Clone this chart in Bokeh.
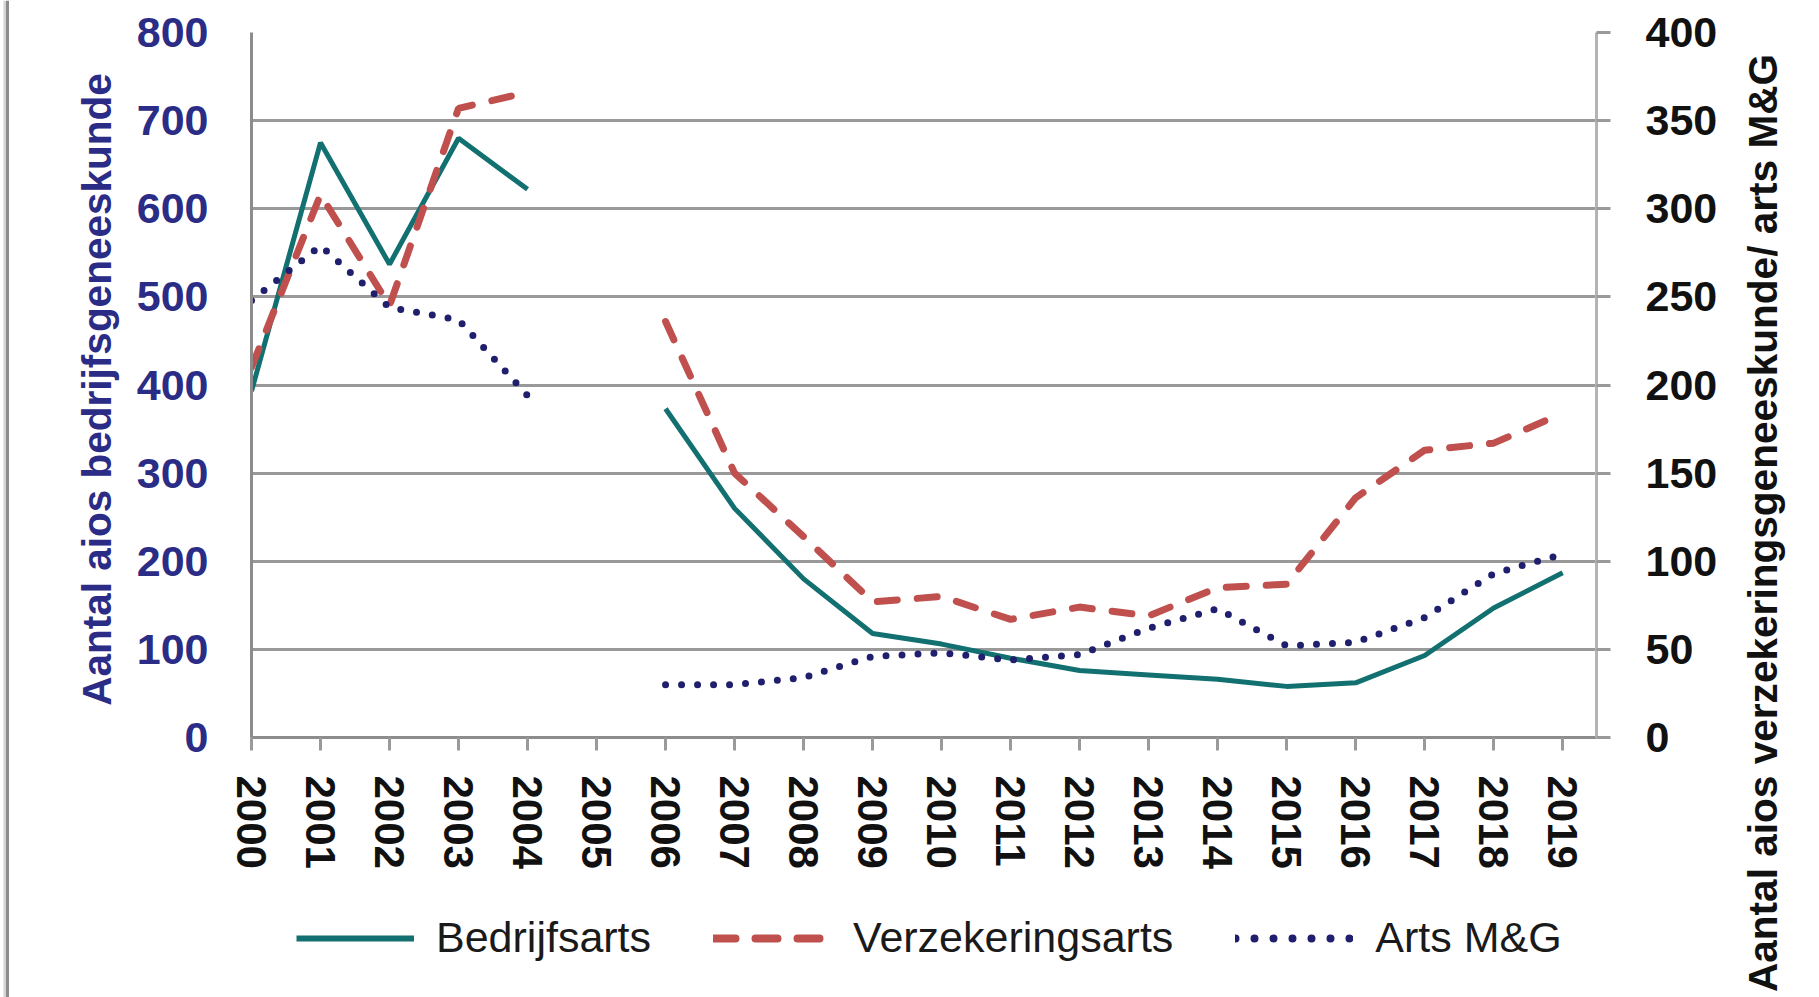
import math
from bokeh.plotting import figure
from bokeh.layouts import row, column
from bokeh.models import (Range1d, LinearAxis, FixedTicker, Legend, LegendItem, Label)
from bokeh.embed import file_html
from bokeh.resources import INLINE

# ---------------- data ----------------
years = list(range(2000, 2020))
nan = float("nan")
bedrijfsarts = [393, 675, 537, 680, 622, nan, 373, 260, 180, 118, 106, 90, 76, 71, 66, 58, 62, 93, 147, 187]
verzekeringsarts = [210, 308, 245, 357, 366, nan, 236, 150, 114, 77, 80, 67, 74, 69, 85, 87, 136, 163, 167, 184]
arts_mg = [248, 279, 244, 237, 194, nan, 30, 30, 34, 46, 48, 44, 47, 62, 73, 52, 54, 68, 93, 104]
left_ticks = [0, 100, 200, 300, 400, 500, 600, 700, 800]
right_ticks = [0, 50, 100, 150, 200, 250, 300, 350, 400]
series_names = ["Bedrijfsarts", "Verzekeringsarts", "Arts M&G"]
left_title = "Aantal aios bedrijfsgeneeskunde"
right_title = "Aantal aios verzekeringsgeneeskunde/ arts M&G"

# ---------------- styling ----------------
FONT = "Liberation Sans"
TEAL = "#127070"
RED = "#C0504D"
NAVY = "#1F1F6E"
LEFT_TXT = "#2B2C85"
GRID = "#999999"

TOTAL_H = 997
LEFT_W, MAIN_W, RIGHT_W = 120, 1610, 89
MAIN_H, LEG_H = 890, 107


def blank(width, height):
    f = figure(width=width, height=height, output_backend="svg", toolbar_location=None,
               x_range=Range1d(0, width), y_range=Range1d(0, height),
               x_axis_location=None, y_axis_location=None,
               min_border_left=0, min_border_right=0, min_border_top=0, min_border_bottom=0)
    f.outline_line_color = None
    f.xgrid.visible = False
    f.ygrid.visible = False
    f.background_fill_color = "white"
    f.border_fill_color = "white"
    return f


# ---------------- main chart ----------------
p = figure(width=MAIN_W, height=MAIN_H, output_backend="svg", toolbar_location=None,
           x_range=Range1d(2000, 2019.49), y_range=Range1d(0, 800),
           min_border_left=131, min_border_right=134, min_border_top=32,
           min_border_bottom=153)
p.outline_line_color = None
p.background_fill_color = "white"
p.border_fill_color = "white"
p.extra_y_ranges = {"right": Range1d(0, 400)}

xa = p.xaxis[0]
xa.ticker = FixedTicker(ticks=years)
xa.major_label_overrides = {y: str(y) for y in years}
xa.major_label_orientation = "vertical"
xa.major_label_text_font = FONT
xa.major_label_text_font_size = "42px"
xa.major_label_text_font_style = "bold"
xa.major_label_text_color = "#111111"
xa.major_label_standoff = 25
xa.axis_line_color = "#8C8C8C"
xa.axis_line_width = 3
xa.major_tick_out = 13
xa.major_tick_in = 0
xa.major_tick_line_color = "#9A9A9A"
xa.major_tick_line_width = 3
xa.minor_tick_line_color = None

ya = p.yaxis[0]
ya.ticker = FixedTicker(ticks=left_ticks)
ya.major_label_text_font = FONT
ya.major_label_text_font_size = "43px"
ya.major_label_text_font_style = "bold"
ya.major_label_text_color = LEFT_TXT
ya.major_label_standoff = 43
ya.axis_line_color = "#8C8C8C"
ya.axis_line_width = 3
ya.major_tick_out = 0
ya.major_tick_in = 0
ya.minor_tick_line_color = None

ra = LinearAxis(y_range_name="right", ticker=FixedTicker(ticks=right_ticks))
ra.major_label_text_font = FONT
ra.major_label_text_font_size = "43px"
ra.major_label_text_font_style = "bold"
ra.major_label_text_color = "#111111"
ra.major_label_standoff = 35
ra.axis_line_color = "#B4B4B4"
ra.axis_line_width = 3
ra.major_tick_out = 14
ra.major_tick_in = 0
ra.major_tick_line_color = GRID
ra.major_tick_line_width = 3
ra.minor_tick_line_color = None
p.add_layout(ra, "right")

p.xgrid.grid_line_color = None
p.ygrid.ticker = FixedTicker(ticks=left_ticks)
p.ygrid.grid_line_color = GRID
p.ygrid.grid_line_width = 3

p.line(years, bedrijfsarts, line_color=TEAL, line_width=5)
p.line(years, verzekeringsarts, y_range_name="right", line_color=RED,
       line_width=7, line_dash="20 20", line_cap="round")
p.line(years, arts_mg, y_range_name="right", line_color=NAVY,
       line_width=7, line_dash="0 16", line_cap="round")

# ---------------- legend strip (frame is aligned with the chart frame) ----------------
lg = blank(MAIN_W, LEG_H)
off = [-100, -50]
l1 = lg.line(off, off, line_color=TEAL, line_width=6)
l2 = lg.line(off, off, line_color=RED, line_width=8, line_dash="22 20", line_cap="round")
l3 = lg.line(off, off, line_color=NAVY, line_width=8, line_dash="0 19", line_cap="round")
legend = Legend(items=[LegendItem(label=series_names[0], renderers=[l1]),
                       LegendItem(label=series_names[1], renderers=[l2]),
                       LegendItem(label=series_names[2], renderers=[l3])],
                orientation="horizontal", location=(45, 35),
                glyph_width=118, glyph_height=40, label_height=40,
                label_standoff=22, spacing=62, padding=0, margin=0,
                border_line_color=None, background_fill_alpha=0,
                label_text_font=FONT, label_text_font_size="43px",
                label_text_color="#1a1a1a")
lg.add_layout(legend)

# ---------------- left title strip (with chart border) ----------------
lt = blank(LEFT_W, TOTAL_H)
lt.quad(left=[3], right=[5.5], bottom=[0], top=[TOTAL_H], fill_color="#D4D4D4", line_color=None)
lt.quad(left=[5.5], right=[8.5], bottom=[0], top=[TOTAL_H], fill_color="#8C8C8C", line_color=None)
lt.add_layout(Label(x=96, y=TOTAL_H - 389, text=left_title, angle=math.pi / 2,
                    text_align="center", text_baseline="middle",
                    text_font=FONT, text_font_size="40.5px",
                    text_font_style="bold", text_color=LEFT_TXT))

# ---------------- right title strip ----------------
rt = blank(RIGHT_W, TOTAL_H)
rt.add_layout(Label(x=32, y=TOTAL_H - 522.5, text=right_title, angle=math.pi / 2,
                    text_align="center", text_baseline="middle",
                    text_font=FONT, text_font_size="40.6px",
                    text_font_style="bold", text_color="#111111"))

layout = row(lt, column(p, lg, spacing=0), rt, spacing=0)
open("out.html", "w").write(file_html(layout, INLINE))
